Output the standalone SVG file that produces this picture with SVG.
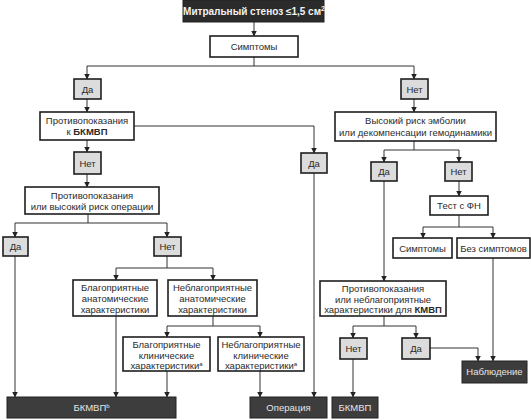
<svg xmlns="http://www.w3.org/2000/svg" width="531" height="420" viewBox="0 0 531 420">
<defs>
<marker id="ah" markerWidth="6" markerHeight="6" refX="5.5" refY="3" orient="auto" markerUnits="userSpaceOnUse"><path d="M0,0 L6,3 L0,6 z" fill="#222"/></marker>
<style>
.b{fill:#fff;stroke:#1e1e1e;stroke-width:1.6}
.s{fill:#dcdcdc;stroke:#1e1e1e;stroke-width:1.6}
.d{fill:#3d3d3d;stroke:#222;stroke-width:1}
.t{font-family:"Liberation Sans",Arial,sans-serif;font-size:9.5px;fill:#2a2a2a;text-anchor:middle}
.w{font-family:"Liberation Sans",Arial,sans-serif;font-size:9.5px;fill:#e6e6e6;text-anchor:middle}
.c path{fill:none;stroke:#333;stroke-width:1;marker-end:url(#ah)}
.c path.n{marker-end:none}
</style>
</defs>
<rect width="531" height="420" fill="#fff"/>
<g class="c" id="connectors">
<path d="M254,22 V36"/>
<path d="M254,57 V66 H87 V79"/>
<path d="M254,66 H414 V79"/>
<path d="M87,99 V112"/>
<path d="M414,99 V112"/>
<path d="M134,126 H314 V153"/>
<path d="M87,140 V152"/>
<path d="M87,174 V187"/>
<path d="M88,214 V223 H15 V237"/>
<path d="M88,223 H167 V237"/>
<path d="M15,256 V397"/>
<path d="M167,256 V268 H116 V280"/>
<path d="M167,268 H213 V280"/>
<path d="M116,316 V397"/>
<path d="M213,316 V326 H167 V337"/>
<path d="M213,326 H260 V337"/>
<path d="M167,371 V397"/>
<path d="M260,371 V397"/>
<path d="M314,173 V397"/>
<path d="M414,141 V150 H384 V162"/>
<path d="M414,150 H459 V162"/>
<path d="M384,181 V281"/>
<path d="M459,181 V196"/>
<path d="M459,215 V227 H423 V238"/>
<path d="M459,227 H493 V238"/>
<path d="M493,258 V361"/>
<path d="M384,316 V326 H353 V338"/>
<path d="M384,326 H416 V338"/>
<path d="M353,359 V397"/>
<path d="M430,348 H478 V361"/>
</g>
<g id="n_start"><rect x="183" y="0" width="141" height="22" fill="#2b2b2b" stroke="#222"/><text x="254" y="15" class="w" style="font-weight:bold;font-size:10px;fill:#f2f2f2">Митральный стеноз ≤1,5 см<tspan font-size="7" dy="-4">2</tspan></text></g>
<g id="n_sympt"><rect x="210" y="36" width="88" height="21" class="b"/><text x="254" y="50" class="t">Симптомы</text></g>
<g id="n_yes1"><rect x="74" y="79" width="27" height="20" class="s"/><text x="87.5" y="92.5" class="t">Да</text></g>
<g id="n_no1"><rect x="401" y="79" width="27" height="20" class="s"/><text x="414.5" y="92.5" class="t">Нет</text></g>
<g id="n_contra1"><rect x="40" y="112" width="94" height="28" class="b"/><text x="87" y="124" class="t">Противопоказания</text><text x="87" y="135" class="t">к <tspan font-weight="bold">БКМВП</tspan></text></g>
<g id="n_risk"><rect x="335" y="112" width="161" height="29" class="b"/><text x="415.5" y="124" class="t">Высокий риск эмболии</text><text x="415.5" y="136" class="t">или декомпенсации гемодинамики</text></g>
<g id="n_yes2"><rect x="301" y="153" width="26" height="20" class="s"/><text x="314" y="166.5" class="t">Да</text></g>
<g id="n_no2"><rect x="74" y="152" width="27" height="22" class="s"/><text x="87.5" y="166.5" class="t">Нет</text></g>
<g id="n_contra2"><rect x="25" y="187" width="134" height="27" class="b"/><text x="92" y="198.5" class="t">Противопоказания</text><text x="92" y="210" class="t">или высокий риск операции</text></g>
<g id="n_yes3"><rect x="3" y="237" width="25" height="19" class="s"/><text x="15.5" y="250" class="t">Да</text></g>
<g id="n_no3"><rect x="154" y="237" width="27" height="19" class="s"/><text x="167.5" y="250" class="t">Нет</text></g>
<g id="n_favan"><rect x="73" y="280" width="84" height="36" class="b"/><text x="115" y="291" class="t">Благоприятные</text><text x="115" y="302" class="t">анатомические</text><text x="115" y="313" class="t">характеристики</text></g>
<g id="n_unfavan"><rect x="168" y="280" width="89" height="36" class="b"/><text x="212.5" y="291" class="t">Неблагоприятные</text><text x="212.5" y="302" class="t">анатомические</text><text x="212.5" y="313" class="t">характеристики</text></g>
<g id="n_favcl"><rect x="123" y="337" width="87" height="34" class="b"/><text x="166.5" y="348" class="t">Благоприятные</text><text x="166.5" y="358.5" class="t">клинические</text><text x="166.5" y="369" class="t">характеристики<tspan font-size="6" dy="-3.5">a</tspan></text></g>
<g id="n_unfavcl"><rect x="218" y="337" width="86" height="34" class="b"/><text x="261" y="348" class="t">Неблагоприятные</text><text x="261" y="358.5" class="t">клинические</text><text x="261" y="369" class="t">характеристики<tspan font-size="6" dy="-3.5">a</tspan></text></g>
<g id="n_yes4"><rect x="371" y="162" width="26" height="19" class="s"/><text x="384" y="175" class="t">Да</text></g>
<g id="n_no4"><rect x="445" y="162" width="27" height="19" class="s"/><text x="458.5" y="175" class="t">Нет</text></g>
<g id="n_test"><rect x="430" y="196" width="58" height="19" class="b"/><text x="459" y="209" class="t">Тест с ФН</text></g>
<g id="n_sympt2"><rect x="393" y="238" width="59" height="20" class="b"/><text x="422.5" y="251.5" class="t">Симптомы</text></g>
<g id="n_nosympt"><rect x="457" y="238" width="73" height="20" class="b"/><text x="493.5" y="251.5" class="t">Без симптомов</text></g>
<g id="n_contra3"><rect x="320" y="281" width="126" height="35" class="b"/><text x="383" y="292" class="t">Противопоказания</text><text x="383" y="302.5" class="t">или неблагоприятные</text><text x="383" y="313" class="t">характеристики для <tspan font-weight="bold">КМВП</tspan></text></g>
<g id="n_no5"><rect x="340" y="338" width="27" height="21" class="s"/><text x="353.5" y="351.5" class="t">Нет</text></g>
<g id="n_yes5"><rect x="402" y="338" width="28" height="21" class="s"/><text x="416" y="351.5" class="t">Да</text></g>
<g id="n_obs"><rect x="462" y="361" width="65" height="22" class="d"/><text x="494.5" y="375" class="w">Наблюдение</text></g>
<g id="n_bkmvp1"><rect x="7" y="397" width="169" height="21" class="d"/><text x="91.5" y="411" class="w">БКМВП<tspan font-size="6" dy="-3.5">b</tspan></text></g>
<g id="n_oper"><rect x="250" y="397" width="77" height="21" class="d"/><text x="288.5" y="411" class="w">Операция</text></g>
<g id="n_bkmvp2"><rect x="332" y="397" width="46" height="21" class="d"/><text x="355" y="411" class="w">БКМВП</text></g>
</svg>
